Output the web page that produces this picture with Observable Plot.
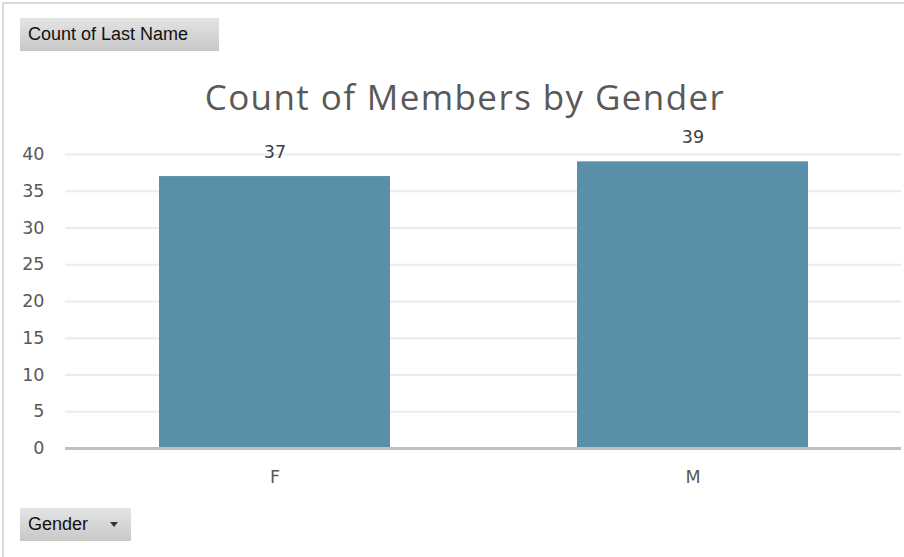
<!DOCTYPE html>
<html>
<head>
<meta charset="utf-8">
<script src="https://cdn.jsdelivr.net/npm/d3@7"></script>
<script src="https://cdn.jsdelivr.net/npm/@observablehq/plot@0.6"></script>
<style>
  html, body { margin: 0; padding: 0; background: #fff; }
  #frame { position: relative; width: 904px; height: 557px; overflow: hidden; background: #fff; }
  #border { position: absolute; left: 2px; top: 2px; width: 920px; height: 600px; border-left: 2px solid #d9d9d9; border-top: 2px solid #d9d9d9; box-sizing: border-box; }
  .btn { position: absolute; box-sizing: border-box; background: linear-gradient(#e4e4e4, #c8c8c8); color: #111; font-family: "Liberation Sans", Arial, sans-serif; font-size: 18px; line-height: 33px; padding-left: 8px; }
  #btn1 { left: 20px; top: 18px; width: 199px; height: 33px; }
  #btn2 { left: 20px; top: 508px; width: 111px; height: 33px; }
  #btn2 .arrow { position: absolute; left: 90px; top: 14px; width: 0; height: 0; border-left: 4px solid transparent; border-right: 4px solid transparent; border-top: 5px solid #333; }
  #title { position: absolute; left: 0; top: 73px; width: 930px; text-align: center; font-family: "Open Sans", "Noto Sans", sans-serif; font-size: 35px; letter-spacing: 1.4px; color: #595959; }
  #chart { position: absolute; left: 0; top: 110px; }
</style>
</head>
<body>
<div id="frame">
  <div id="border"></div>
  <div class="btn" id="btn1">Count of Last Name</div>
  <div id="title">Count of Members by Gender</div>
  <div id="chart"></div>
  <div class="btn" id="btn2">Gender<span class="arrow"></span></div>
</div>
<script>
const genders = ["F", "M"];
const counts = [37, 39];
const yTicks = [0, 5, 10, 15, 20, 25, 30, 35, 40];

const data = genders.map((g, i) => ({gender: g, count: counts[i]}));

const chart = Plot.plot({
  width: 904,
  height: 390,
  marginLeft: 65,
  marginRight: 3,
  marginTop: 44,
  marginBottom: 52,
  style: {fontFamily: "DejaVu Sans, sans-serif", fontSize: "17px", color: "#595959", background: "transparent"},
  x: {domain: genders, paddingInner: 0.448, paddingOuter: 0.224, label: null},
  y: {domain: [0, 40], ticks: yTicks, label: null},
  marks: [
    Plot.ruleY(yTicks.filter(d => d > 0), {stroke: "#ebebeb", strokeWidth: 2}),
    Plot.axisY({ticks: yTicks, tickSize: 0, tickPadding: 21, label: null, fontSize: 17.5, fill: "#595959"}),
    Plot.axisX({tickSize: 0, tickPadding: 22, label: null, fontSize: 17.5, fill: "#595959"}),
    Plot.barY(data, {x: "gender", y: "count", fill: "#5a8fa9"}),
    Plot.ruleY([0], {stroke: "#bfbfbf", strokeWidth: 3}),
    Plot.text(data, {x: "gender", y: "count", text: d => String(d.count), dy: -24, fontSize: 17.5, fill: "#404040"})
  ]
});
document.getElementById("chart").appendChild(chart);
</script>
</body>
</html>
